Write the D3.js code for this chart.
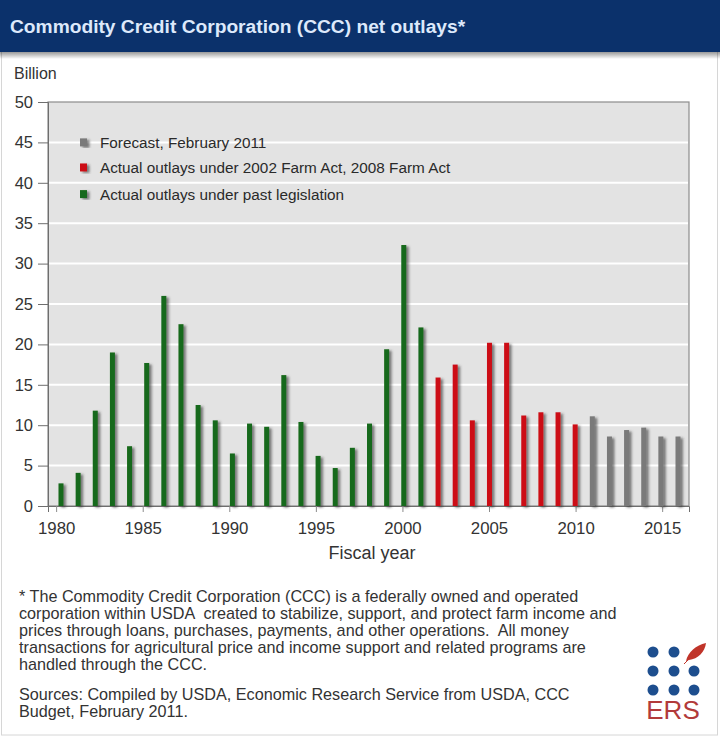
<!DOCTYPE html>
<html>
<head>
<meta charset="utf-8">
<script src="https://cdn.jsdelivr.net/npm/d3@7/dist/d3.min.js"></script>
<style>
	body { margin: 0; background: #fff; }
	svg { display: block; font-family: Arial, "Liberation Sans", Helvetica, sans-serif; }
</style>
</head>
<body>
<svg id="Canvas" width="720" height="741"></svg>
<script>
	// fiscal years and net outlays (billion dollars), one array per legend group
	var pastYears = [1980, 1981, 1982, 1983, 1984, 1985, 1986, 1987, 1988, 1989, 1990,
			1991, 1992, 1993, 1994, 1995, 1996, 1997, 1998, 1999, 2000, 2001],
		pastValues = [2.8, 4.1, 11.8, 19.0, 7.4, 17.7, 26.0, 22.5, 12.5, 10.6, 6.5,
			10.2, 9.8, 16.2, 10.4, 6.2, 4.7, 7.2, 10.2, 19.4, 32.3, 22.1],
		farmActYears = [2002, 2003, 2004, 2005, 2006, 2007, 2008, 2009, 2010],
		farmActValues = [15.9, 17.5, 10.6, 20.2, 20.2, 11.2, 11.6, 11.6, 10.1],
		forecastYears = [2011, 2012, 2013, 2014, 2015, 2016],
		forecastValues = [11.1, 8.6, 9.4, 9.7, 8.6, 8.6];

	var xTicks = [1980, 1985, 1990, 1995, 2000, 2005, 2010, 2015],
		yTicks = [0, 5, 10, 15, 20, 25, 30, 35, 40, 45, 50];

	var legendLabels = [
			"Forecast, February 2011",
			"Actual outlays under 2002 Farm Act, 2008 Farm Act",
			"Actual outlays under past legislation"
		],
		legendColors = ["#7a7a7a", "#cc1018", "#17691a"];

	var footnoteLines = [
			"* The Commodity Credit Corporation (CCC) is a federally owned and operated",
			"corporation within USDA  created to stabilize, support, and protect farm income and",
			"prices through loans, purchases, payments, and other operations.  All money",
			"transactions for agricultural price and income support and related programs are",
			"handled through the CCC."
		],
		sourceLines = [
			"Sources: Compiled by USDA, Economic Research Service from USDA, CCC",
			"Budget, February 2011."
		];

	var svg = d3.select("#Canvas"),
		plot = { left: 48, top: 102, right: 689, bottom: 506 };

	var x = d3.scaleLinear().domain([1979.53, 2016.55]).range([plot.left, plot.right]),
		xBar = d3.scaleLinear().domain([1980, 2016]).range([61, 678]),
		y = d3.scaleLinear().domain([0, 50]).range([plot.bottom, plot.top]),
		barWidth = 5;

	var defs = svg.append("defs");

	defs.append("filter").attr("id", "barShadow")
		.attr("x", "-50%").attr("y", "-10%").attr("width", "250%").attr("height", "130%")
		.append("feDropShadow")
		.attr("dx", 2.5).attr("dy", 1.5).attr("stdDeviation", 1.3)
		.attr("flood-color", "#333").attr("flood-opacity", 0.6);

	var headShade = defs.append("linearGradient").attr("id", "headShade")
		.attr("x1", 0).attr("y1", 0).attr("x2", 0).attr("y2", 1);
	headShade.append("stop").attr("offset", 0).attr("stop-color", "#000").attr("stop-opacity", 0.4);
	headShade.append("stop").attr("offset", 1).attr("stop-color", "#000").attr("stop-opacity", 0);

	DrawFrame();
	DrawGrid();
	DrawAxes();
	DrawBars(pastYears, pastValues, legendColors[2]);
	DrawBars(farmActYears, farmActValues, legendColors[1]);
	DrawBars(forecastYears, forecastValues, legendColors[0]);
	DrawLegend();
	DrawNotes();
	DrawLogo();

	/*
	 * Card, header band and plot background
	 */
	function DrawFrame(){
		svg.append("rect").attr("x", 1.5).attr("y", 40).attr("width", 716).attr("height", 695)
			.attr("fill", "#fff").attr("stroke", "#d6d6d6");

		svg.append("rect").attr("x", 0).attr("y", 0).attr("width", 720).attr("height", 52)
			.attr("fill", "#0b316b");
		svg.append("rect").attr("x", 0).attr("y", 52).attr("width", 720).attr("height", 7)
			.attr("fill", "url(#headShade)");

		svg.append("text").attr("x", 10).attr("y", 33)
			.attr("font-size", 19.2).attr("font-weight", "bold").attr("fill", "#dde9fb")
			.text("Commodity Credit Corporation (CCC) net outlays*");

		svg.append("rect")
			.attr("x", plot.left).attr("y", plot.top)
			.attr("width", plot.right - plot.left).attr("height", plot.bottom - plot.top)
			.attr("fill", "#e3e3e3").attr("stroke", "#8c8c8c").attr("stroke-width", 1.2);
	}

	function DrawGrid(){
		svg.append("g").selectAll("line")
			.data(yTicks.filter(function(d){ return d > 0 && d < 50; }))
			.enter().append("line")
			.attr("x1", plot.left + 1).attr("x2", plot.right - 1)
			.attr("y1", function(d){ return y(d); })
			.attr("y2", function(d){ return y(d); })
			.attr("stroke", "#fff").attr("stroke-width", 2);
	}

	function DrawAxes(){
		var yAxis = svg.append("g")
			.attr("transform", "translate(" + plot.left + ",0)")
			.call(d3.axisLeft(y).tickValues(yTicks).tickSize(10).tickPadding(5));
		yAxis.select(".domain").attr("stroke", "#6e6e6e");
		yAxis.selectAll(".tick line").attr("stroke", "#6e6e6e");
		yAxis.selectAll("text").attr("font-size", 16.5).attr("fill", "#333")
			.attr("font-family", "Arial, 'Liberation Sans', sans-serif");

		var xAxis = svg.append("g")
			.attr("transform", "translate(0," + plot.bottom + ")")
			.call(d3.axisBottom(x).tickValues(xTicks).tickFormat(d3.format("d"))
				.tickSize(6).tickPadding(10));
		xAxis.select(".domain").attr("stroke", "#6e6e6e");
		xAxis.selectAll(".tick line").attr("stroke", "#8c8c8c");
		xAxis.selectAll("text").attr("font-size", 16.8).attr("fill", "#333")
			.attr("font-family", "Arial, 'Liberation Sans', sans-serif");

		svg.append("text").attr("x", 14).attr("y", 79)
			.attr("font-size", 16).attr("fill", "#333").text("Billion");

		svg.append("text").attr("x", 372).attr("y", 559).attr("text-anchor", "middle")
			.attr("font-size", 18).attr("fill", "#333").text("Fiscal year");
	}

	/*
	 * One group of bars with the soft shadow on the right
	 */
	function DrawBars(years, values, color){
		var rows = years.map(function(d, i){ return { year: d, value: values[i] }; });
		svg.append("g").attr("filter", "url(#barShadow)")
			.selectAll("rect").data(rows)
			.enter().append("rect")
			.attr("x", function(d){ return xBar(d.year) - barWidth / 2; })
			.attr("y", function(d){ return y(d.value); })
			.attr("width", barWidth)
			.attr("height", function(d){ return y(0) - y(d.value); })
			.attr("fill", color);
	}

	function DrawLegend(){
		var rows = [45, 41.9, 38.6];
		var item = svg.append("g").selectAll("g").data(legendLabels)
			.enter().append("g")
			.attr("transform", function(d, i){ return "translate(80," + y(rows[i]) + ")"; });

		item.append("rect").attr("x", 0).attr("y", -4).attr("width", 7).attr("height", 8)
			.attr("fill", function(d, i){ return legendColors[i]; })
			.attr("filter", "url(#barShadow)");

		item.append("text").attr("x", 20).attr("dy", "0.36em")
			.attr("font-size", 15.3).attr("fill", "#2a2a2a")
			.text(function(d){ return d; });
	}

	function DrawNotes(){
		svg.append("g").selectAll("text").data(footnoteLines)
			.enter().append("text")
			.attr("x", 19).attr("y", function(d, i){ return 602 + i * 17; })
			.attr("font-size", 16.2).attr("fill", "#333").style("white-space", "pre")
			.text(function(d){ return d; });

		svg.append("g").selectAll("text").data(sourceLines)
			.enter().append("text")
			.attr("x", 19).attr("y", function(d, i){ return 700 + i * 17; })
			.attr("font-size", 16.2).attr("fill", "#333")
			.text(function(d){ return d; });
	}

	/*
	 * ERS mark: nine dots (one swapped for a leaf) over the letters
	 */
	function DrawLogo(){
		var dots = [];
		[652, 671, 690].forEach(function(cy, r){
			[653, 674, 694].forEach(function(cx, c){
				if(!(r === 0 && c === 2)){ dots.push({ cx: cx, cy: cy }); }
			});
		});
		svg.append("g").selectAll("circle").data(dots)
			.enter().append("circle")
			.attr("cx", function(d){ return d.cx; })
			.attr("cy", function(d){ return d.cy; })
			.attr("r", 5.5).attr("fill", "#1d4e8e");

		svg.append("path")
			.attr("d", "M686,661 C688,652 696,645 706,643 C705,652 698,659 689,660 Z")
			.attr("fill", "#c0342a");
		svg.append("path").attr("d", "M684,664 L697,651")
			.attr("stroke", "#c0342a").attr("stroke-width", 1);

		svg.append("text").attr("x", 673).attr("y", 719).attr("text-anchor", "middle")
			.attr("font-size", 26).attr("fill", "#b23a3a").text("ERS");
	}
</script>
</body>
</html>
